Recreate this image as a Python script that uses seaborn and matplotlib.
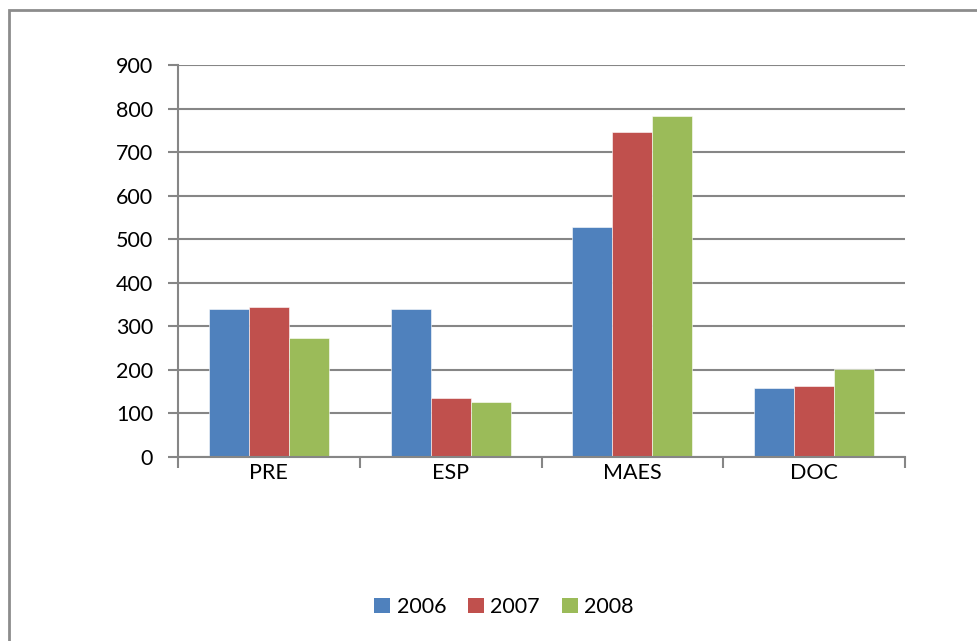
import pandas as pd
import seaborn as sns
import matplotlib
matplotlib.use("Agg")
import matplotlib.pyplot as plt
from matplotlib.patches import Rectangle, Patch

# --------------------------------------------------------------------------
# Data
# --------------------------------------------------------------------------
CATEGORIES = ["PRE", "ESP", "MAES", "DOC"]
YEARS = ["2006", "2007", "2008"]
VALUES_2006 = [340, 340, 529, 158]
VALUES_2007 = [344, 135, 746, 164]
VALUES_2008 = [274, 127, 784, 203]
Y_TICKS = [0, 100, 200, 300, 400, 500, 600, 700, 800, 900]

COLORS = ["#4F81BD", "#C0504D", "#9BBB59"]
GRID = "#868686"
FONT = "Lato"
FS = 15.5

df = pd.DataFrame({
    "cat": CATEGORIES * 3,
    "year": [YEARS[0]] * 4 + [YEARS[1]] * 4 + [YEARS[2]] * 4,
    "value": VALUES_2006 + VALUES_2007 + VALUES_2008,
})

sns.set_style("white")
plt.rcParams["font.family"] = [FONT, "DejaVu Sans"]
plt.rcParams["text.color"] = "black"

fig = plt.figure(figsize=(9.78, 6.41), dpi=100)
ax = fig.add_axes([178 / 978, 1 - 457 / 641, (905 - 178) / 978, (457 - 65) / 641])

sns.barplot(df, x="cat", y="value", hue="year", hue_order=YEARS,
            palette=COLORS, width=0.66, saturation=1, order=CATEGORIES,
            edgecolor="white", linewidth=0.4, ax=ax, legend=False)

ax.set_ylim(0, 900)
ax.set_xlim(-0.5, 3.5)
ax.set_yticks(Y_TICKS)
ax.set_xlabel("")
ax.set_ylabel("")
ax.grid(True, axis="y", color=GRID, linewidth=1.5)
ax.set_axisbelow(True)

for side in ["top", "right"]:
    ax.spines[side].set_visible(False)
for side in ["left", "bottom"]:
    ax.spines[side].set_color(GRID)
    ax.spines[side].set_linewidth(1.5)

ax.tick_params(axis="y", length=7, width=1.5, color=GRID, labelsize=FS,
               pad=11, left=True, labelcolor="black")
ax.tick_params(axis="x", which="major", length=0, labelsize=FS, pad=4,
               labelcolor="black")
ax.set_xticks([-0.5, 0.5, 1.5, 2.5, 3.5], minor=True)
ax.tick_params(axis="x", which="minor", length=8, width=1.5, color=GRID,
               bottom=True)

# chart border
fig.patches.append(Rectangle((9 / 978, -0.1), 1.2, 1 - 10 / 641 + 0.1,
                             transform=fig.transFigure, fill=False,
                             edgecolor="#8C8C8C", linewidth=2))

handles = [Patch(facecolor=c, edgecolor="none") for c in COLORS]
fig.legend(handles, YEARS, loc="center", bbox_to_anchor=(504 / 978, 1 - 607 / 641),
           ncol=3, frameon=False, fontsize=FS, handlelength=0.75,
           handleheight=0.75, handletextpad=0.3, columnspacing=1.0)

fig.savefig("out.png", dpi=100)
